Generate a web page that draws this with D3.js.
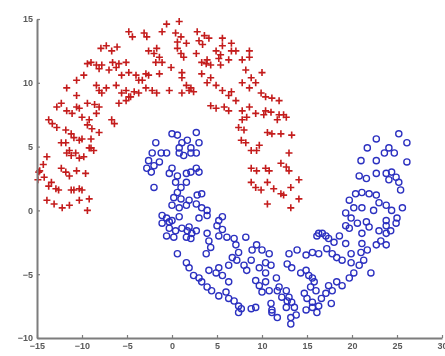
<!DOCTYPE html>
<html>
<head>
<meta charset="utf-8">
<script src="https://cdn.jsdelivr.net/npm/d3@7"></script>
<style>
  html, body { margin: 0; padding: 0; background: #fff; }
  .tick text { font-family: "Liberation Sans", Arial, sans-serif; font-size: 9px; font-weight: bold; fill: #5a5a5a; }
</style>
</head>
<body>
<div id="chart"></div>
<script>
// upper moon, red crosses [x, y]
const redPoints = [
  [-13.9,4.2],[-14.8,3.0],[-14.2,2.6],[-13.4,2.2],[-12.9,1.7],[-12.6,1.6],[-13.7,1.9],[-13.9,0.8],[-12.2,0.2],[-11.4,0.4],
  [-10.3,0.8],[-9.4,0.0],[-9.2,0.9],[-10.9,1.6],[-10.3,1.7],[-11.2,1.6],[-10.0,1.6],[-12.3,3.3],[-11.8,3.0],[-11.4,2.7],
  [-10.6,3.1],[-9.6,2.9],[-11.7,4.5],[-11.2,4.3],[-11.4,4.7],[-10.3,4.1],[-9.8,4.2],[-12.3,5.3],[-11.8,5.3],[-10.3,5.5],
  [-9.0,4.9],[-8.7,4.7],[-13.7,7.1],[-13.3,6.8],[-12.8,6.5],[-11.8,6.3],[-11.2,6.0],[-10.9,5.7],[-10.0,5.6],[-9.4,6.7],
  [-8.9,6.4],[-11.7,7.8],[-11.1,7.6],[-10.6,8.1],[-10.0,7.3],[-8.4,7.6],[-8.1,8.1],[-6.7,7.1],[-6.4,6.8],[-12.8,8.1],
  [-12.3,8.4],[-14.7,3.1],[-14.9,2.4],[-14.3,3.6],[-13.1,0.5],[-10.3,8.0],[-9.4,8.4],[-10.6,9.0],[-11.7,9.6],[-10.6,10.2],
  [-9.4,11.5],[-8.1,11.1],[-7.8,11.4],[-8.4,9.8],[-8.1,9.4],[-7.8,9.2],[-8.6,8.3],[-9.2,7.1],[-8.1,6.1],[-5.1,9.4],
  [-4.6,8.9],[-3.7,9.2],[-2.9,9.6],[-5.9,8.4],[-5.1,8.6],[-7.0,11.0],[-6.2,11.2],[-5.6,10.6],[-5.9,11.5],[-4.8,10.8],
  [-4.0,10.6],[-3.7,10.2],[-2.9,10.7],[-5.1,11.6],[-10.7,4.5],[-9.2,4.9],[-9.0,5.6],[0.8,14.8],[-0.6,14.6],[-4.8,14.0],
  [-4.4,13.6],[-3.1,13.9],[-2.8,13.6],[-1.1,14.0],[0.4,13.9],[1.0,13.6],[0.6,13.2],[1.6,13.1],[2.8,14.0],[3.6,13.7],
  [4.1,13.5],[5.6,13.5],[6.6,13.1],[7.1,12.5],[-7.9,12.7],[-7.3,12.9],[-6.7,12.5],[-6.1,12.8],[-9.0,11.6],[-8.4,11.4],
  [-6.6,11.6],[-9.8,10.6],[-7.3,9.6],[-6.2,9.8],[-5.6,9.2],[-4.8,8.9],[-4.2,9.3],[-2.2,9.4],[-1.7,9.2],[-3.3,10.2],
  [-2.6,10.6],[-1.4,10.7],[-2.6,12.5],[-2.0,12.3],[-1.4,12.0],[-1.1,11.6],[-1.8,11.6],[-1.7,12.7],[0.6,12.7],[1.0,12.3],
  [-0.1,11.2],[1.1,10.4],[1.6,9.8],[1.9,9.4],[2.7,12.3],[3.3,11.6],[3.9,11.8],[4.3,11.4],[3.0,13.3],[3.4,13.0],
  [4.9,12.5],[5.4,12.2],[6.3,11.8],[5.4,11.4],[3.3,10.7],[4.3,10.4],[4.9,9.8],[5.6,9.4],[6.3,9.0],[7.8,11.8],
  [8.2,11.0],[8.8,10.4],[9.3,10.0],[8.6,9.6],[4.3,8.2],[4.9,8.0],[5.8,8.1],[6.3,7.8],[7.1,8.6],[7.8,7.8],
  [8.6,8.1],[9.3,7.6],[8.3,7.3],[-0.3,9.4],[1.1,9.2],[2.1,9.6],[7.8,7.1],[7.4,6.5],[8.0,6.3],[7.7,5.5],
  [8.2,5.3],[10.2,7.5],[11.0,7.7],[11.9,7.5],[12.7,7.3],[11.7,7.1],[10.6,6.1],[11.1,6.0],[12.1,6.0],[13.3,5.9],
  [8.8,4.7],[9.4,4.7],[9.7,5.1],[13.0,4.5],[8.8,3.3],[9.4,3.1],[10.4,3.3],[10.8,3.1],[12.1,3.7],[12.7,3.4],
  [13.0,3.1],[8.8,2.2],[9.3,1.8],[9.9,1.6],[10.6,2.2],[11.3,1.7],[12.1,1.3],[12.4,1.2],[13.2,1.8],[14.1,2.4],
  [10.6,0.5],[13.2,0.2],[14.1,0.9],[1.3,12.0],[5.6,12.9],[6.6,12.5],[8.6,12.5],[8.6,12.0],[3.8,11.5],[5.2,11.9],
  [7.8,10.0],[10.0,10.8],[1.1,10.8],[2.4,9.3],[3.9,10.0],[6.6,9.3],[9.9,9.2],[10.4,8.9],[11.1,8.8],[11.9,8.6],
  [10.4,7.8],[12.4,7.5]
];

// lower moon, blue circles [x, y]
const bluePoints = [
  [0.0,6.0],[0.6,5.9],[2.7,6.1],[3.0,5.3],[1.1,5.3],[1.7,5.5],[-1.8,5.3],[-2.2,4.5],[-1.2,4.5],[-0.6,4.5],
  [-2.6,3.9],[-2.0,3.5],[-2.8,3.3],[-2.3,3.0],[-1.4,3.8],[0.8,4.5],[1.3,4.3],[2.1,4.5],[2.7,4.5],[2.1,4.9],
  [0.8,4.9],[0.0,3.3],[-0.3,2.9],[0.6,2.7],[1.6,2.9],[2.1,3.0],[2.7,3.3],[3.0,3.0],[-2.0,1.8],[0.4,2.2],
  [1.0,1.8],[0.6,1.4],[1.6,2.2],[0.2,1.0],[1.0,0.9],[1.9,0.8],[2.8,1.2],[3.3,1.3],[0.0,0.4],[0.8,0.2],
  [1.6,0.4],[2.7,0.5],[3.3,0.2],[3.9,0.0],[-1.1,-0.4],[-0.6,-0.6],[0.0,-0.8],[0.8,-0.5],[3.0,-0.6],[3.9,-0.4],
  [5.2,-0.8],[5.6,-0.5],[-0.3,-1.4],[0.4,-1.6],[1.1,-1.4],[1.9,-1.3],[2.7,-1.6],[3.9,-1.8],[5.2,-2.0],[6.1,-2.1],
  [6.9,-2.2],[8.2,-2.1],[-1.1,-1.0],[-0.3,-0.9],[1.7,-1.6],[2.2,-1.8],[1.6,-2.1],[2.1,-2.2],[-0.6,-2.0],[0.2,-2.1],
  [4.1,-2.4],[3.8,-3.4],[4.3,-2.9],[5.0,-1.2],[5.6,-1.5],[7.1,-2.7],[7.4,-3.3],[8.9,-3.1],[10.0,-3.1],[10.8,-3.4],
  [9.4,-2.7],[0.6,-3.4],[1.6,-4.1],[1.9,-4.5],[2.4,-5.1],[3.0,-5.3],[3.3,-5.6],[4.1,-4.7],[4.9,-4.9],[5.2,-4.5],
  [5.6,-5.1],[6.3,-5.6],[3.9,-6.0],[4.4,-6.3],[5.2,-6.7],[6.0,-6.4],[6.3,-6.9],[6.9,-7.1],[7.7,-7.7],[8.8,-7.7],
  [9.3,-7.6],[11.1,-7.8],[6.3,-4.3],[7.2,-3.9],[6.7,-3.7],[8.0,-4.3],[8.3,-4.7],[8.8,-3.9],[9.7,-4.5],[10.4,-4.1],
  [11.0,-4.3],[10.4,-4.9],[11.6,-5.3],[11.9,-6.0],[9.3,-5.5],[9.7,-5.9],[10.4,-5.6],[10.0,-6.4],[10.8,-6.3],[11.7,-6.3],
  [13.0,-3.4],[12.8,-4.2],[13.3,-4.5],[12.7,-6.3],[13.0,-6.8],[13.3,-7.2],[13.6,-7.6],[13.2,-8.4],[11.0,-7.3],[7.4,-7.5],
  [7.4,-8.0],[11.1,-8.0],[11.7,-8.4],[12.7,-7.6],[13.2,-8.9],[14.9,-7.8],[15.6,-7.6],[16.1,-8.0],[17.7,-7.3],[13.9,-3.1],
  [12.2,-6.8],[13.8,-8.2],[12.8,-7.1],[14.3,-4.9],[14.9,-4.7],[15.2,-5.1],[15.6,-5.3],[15.8,-5.6],[15.4,-6.0],[16.0,-6.3],
  [14.7,-6.5],[15.0,-6.9],[15.6,-7.2],[16.3,-7.5],[16.6,-6.9],[17.1,-6.5],[17.4,-5.9],[17.8,-6.3],[18.3,-5.6],[18.9,-5.9],
  [14.9,-3.5],[15.6,-3.3],[16.3,-3.4],[16.1,-2.0],[16.7,-1.8],[17.4,-2.2],[18.0,-2.5],[17.2,-3.0],[17.8,-3.4],[18.3,-3.7],
  [18.9,-3.9],[19.3,-2.6],[19.9,-3.4],[19.9,-4.1],[20.2,-4.9],[20.8,-4.3],[21.0,-3.3],[21.3,-3.9],[21.7,-3.1],[22.1,-4.9],
  [19.7,-5.3],[19.3,-1.2],[20.6,-1.0],[21.1,-1.8],[21.9,-1.3],[23.0,-1.6],[23.8,-1.2],[24.3,-1.6],[24.9,-1.0],[23.2,-2.4],
  [23.8,-2.7],[22.7,-2.7],[21.1,-2.6],[22.7,5.6],[25.2,6.0],[26.1,5.3],[21.7,4.9],[21.0,3.9],[22.7,3.9],[23.6,4.5],
  [24.1,4.9],[24.7,4.5],[26.1,3.8],[20.8,2.7],[21.6,2.5],[22.7,2.9],[23.8,2.9],[24.4,3.0],[24.9,2.6],[25.2,2.2],
  [25.4,1.6],[24.1,2.4],[20.4,1.3],[21.1,1.4],[21.9,1.3],[22.7,1.2],[23.0,0.6],[19.7,0.8],[20.2,0.2],[21.1,0.2],
  [22.4,0.0],[23.8,0.4],[24.4,0.0],[25.6,0.2],[25.0,-0.6],[19.3,-0.2],[19.9,-0.6],[21.6,-0.9],[23.8,-0.8],[16.3,-1.8],
  [17.1,-2.0],[18.6,-2.0],[19.7,-1.4],[23.8,-1.8]
];

const xTicks = [-15, -10, -5, 0, 5, 10, 15, 20, 25, 30];
const yTicks = [-10, -5, 0, 5, 10, 15];

const width = 445, height = 356;

const svg = d3.select('#chart')
  .append('svg')
  .attr('width', width)
  .attr('height', height);

svg.append('defs').append('filter')
  .attr('id', 'soft')
  .append('feGaussianBlur')
  .attr('stdDeviation', 0.45);

const x = d3.scaleLinear().domain([-15, 30]).range([37, 442]);
const y = d3.scaleLinear().domain([-10, 15]).range([338, 19]);

const plot = svg.append('g').attr('filter', 'url(#soft)');

// red crosses
const cross = 3.5;
plot.append('g')
  .selectAll('path')
  .data(redPoints)
  .enter()
  .append('path')
  .attr('d', d => {
    const cx = x(d[0]), cy = y(d[1]);
    return `M${cx - cross},${cy}H${cx + cross}M${cx},${cy - cross}V${cy + cross}`;
  })
  .attr('stroke', '#c41c1c')
  .attr('stroke-width', 1.6)
  .attr('fill', 'none');

// blue circles
plot.append('g')
  .selectAll('circle')
  .data(bluePoints)
  .enter()
  .append('circle')
  .attr('cx', d => x(d[0]))
  .attr('cy', d => y(d[1]))
  .attr('r', 3.1)
  .attr('fill', 'none')
  .attr('stroke', '#2c30c0')
  .attr('stroke-width', 1.35);

// axes
const xAxis = svg.append('g')
  .attr('transform', `translate(0,${y(-10)})`)
  .call(d3.axisBottom(x).tickValues(xTicks).tickSize(-3).tickSizeOuter(0).tickPadding(5));

const yAxis = svg.append('g')
  .attr('transform', `translate(${x(-15)},0)`)
  .call(d3.axisLeft(y).tickValues(yTicks).tickSize(-3).tickSizeOuter(0).tickPadding(4));

[xAxis, yAxis].forEach(a => {
  a.select('.domain').attr('stroke', '#7d7d7d').attr('stroke-width', 2);
  a.selectAll('.tick line').attr('stroke', '#7d7d7d').attr('stroke-width', 1.2);
  a.attr('filter', 'url(#soft)');
});
</script>
</body>
</html>
